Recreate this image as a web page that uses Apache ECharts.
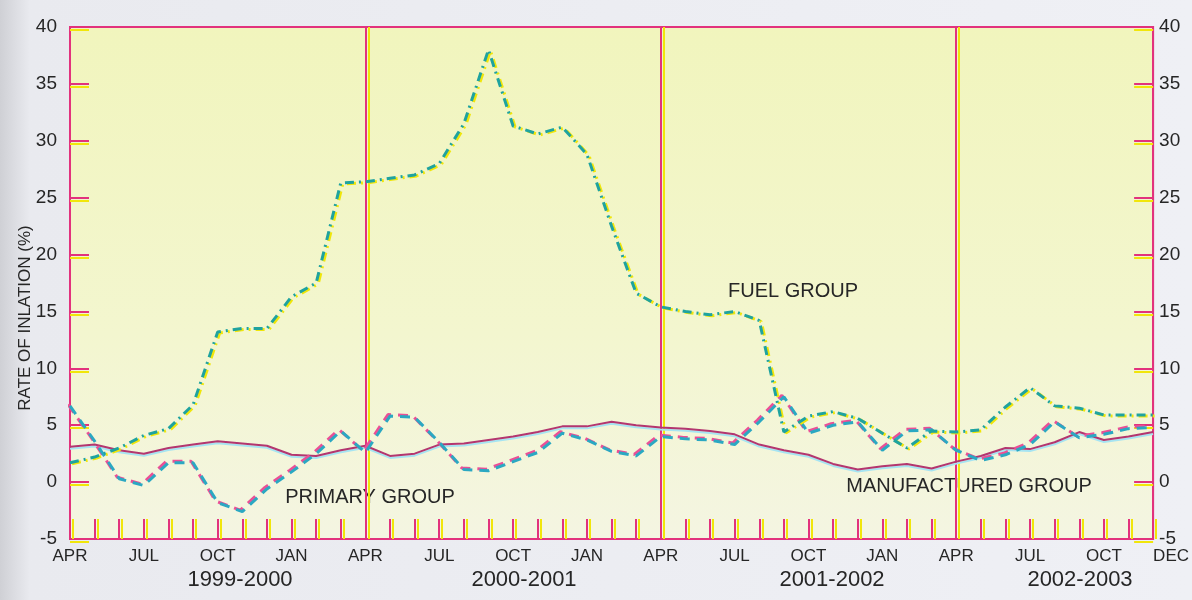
<!DOCTYPE html>
<html>
<head>
<meta charset="utf-8">
<title>Rate of inflation</title>
<script src="https://cdn.jsdelivr.net/npm/echarts@6/dist/echarts.min.js"></script>
<style>
  html, body { margin: 0; padding: 0; }
  #chart { width: 1192px; height: 600px; }
</style>
</head>
<body>
<div id="chart"></div>
<script>
// months Apr 1999 .. Dec 2002
var monthNames = ['APR','MAY','JUN','JUL','AUG','SEP','OCT','NOV','DEC','JAN','FEB','MAR'];
var months = [];
for (var i = 0; i < 45; i++) months.push(monthNames[i % 12]);

var yearLabels = ['1999-2000', '2000-2001', '2001-2002', '2002-2003'];
var yTicks = [-5, 0, 5, 10, 15, 20, 25, 30, 35, 40];

// one value per month
var fuelGroup = [1.7, 2.2, 3.0, 4.1, 4.7, 6.8, 13.2, 13.5, 13.5, 16.3, 17.5, 26.3,
                 26.4, 26.7, 27.0, 28.0, 31.5, 38.0, 31.3, 30.6, 31.2, 28.8, 22.5, 16.6,
                 15.4, 15.0, 14.7, 15.0, 14.2, 4.4, 5.8, 6.2, 5.6, 4.3, 3.0, 4.5,
                 4.4, 4.6, 6.6, 8.3, 6.7, 6.5, 5.9, 5.9, 5.9];
var primaryGroup = [6.7, 3.6, 0.3, -0.3, 1.7, 1.7, -1.8, -2.6, -0.6, 0.9, 2.5, 4.5,
                    2.6, 5.8, 5.7, 3.5, 1.1, 1.0, 1.8, 2.6, 4.3, 3.7, 2.7, 2.3,
                    4.0, 3.8, 3.7, 3.3, 5.3, 7.5, 4.3, 5.0, 5.3, 2.8, 4.5, 4.6,
                    2.8, 1.9, 2.4, 3.3, 5.3, 3.9, 4.2, 4.7, 4.8];
var manufacturedGroup = [3.1, 3.3, 2.8, 2.5, 3.0, 3.3, 3.6, 3.4, 3.2, 2.4, 2.3, 2.8,
                         3.2, 2.3, 2.5, 3.3, 3.4, 3.7, 4.0, 4.4, 4.9, 4.9, 5.3, 5.0,
                         4.8, 4.7, 4.5, 4.2, 3.3, 2.8, 2.4, 1.6, 1.1, 1.4, 1.6, 1.2,
                         1.8, 2.3, 3.0, 2.9, 3.5, 4.4, 3.7, 4.0, 4.4];

var magenta = '#e2327d'
var yellow = '#f1e60a'
var font = 'Liberation Sans, Arial'

var myChart = echarts.init(document.getElementById('chart'))

var yAxisBase = function(pos) {
  return {
    type: 'value',
    position: pos,
    min: yTicks[0],
    max: yTicks[yTicks.length - 1],
    interval: 5,
    axisLine: { show: true, lineStyle: { color: magenta, width: 2 } },
    axisTick: {
      show: true, inside: true, length: 19,
      lineStyle: { color: magenta, width: 2, shadowColor: yellow, shadowOffsetY: 3 }
    },
    axisLabel: {
      fontSize: 19, color: '#262626', fontFamily: font,
      margin: pos === 'left' ? 13 : 6
    },
    splitLine: { show: false }
  }
}

var textStyle = function(txt, size) {
  return { text: txt, fontSize: size, fill: '#262626', fontFamily: font, align: 'center', verticalAlign: 'middle' }
}

var option = {
  backgroundColor: new echarts.graphic.LinearGradient(0, 0, 1, 0, [
    { offset: 0, color: '#cfd0d5' },
    { offset: 0.025, color: '#e9eaef' },
    { offset: 1, color: '#eff0f5' }
  ]),
  animation: false,
  grid: {
    left: 70, right: 38, top: 27, bottom: 61,
    show: true,
    backgroundColor: new echarts.graphic.LinearGradient(0, 0, 0, 1, [
      { offset: 0, color: '#f1f5bd' },
      { offset: 0.6, color: '#f3f6cf' },
      { offset: 1, color: '#f4f5e2' }
    ]),
    borderColor: magenta,
    borderWidth: 2
  },
  xAxis: {
    type: 'category',
    boundaryGap: false,
    data: months,
    axisLine: { onZero: false, lineStyle: { color: magenta, width: 2 } },
    axisTick: {
      show: true, inside: true, length: 20, interval: 0,
      lineStyle: { color: magenta, width: 2, shadowColor: yellow, shadowOffsetX: 3 }
    },
    axisLabel: {
      interval: function(idx) { return idx % 3 === 0 || idx === months.length - 1 },
      fontSize: 17, color: '#262626', fontFamily: font,
      margin: 9,
      alignMaxLabel: 'left'
    },
    splitLine: {
      show: true,
      interval: function(idx) { return idx > 0 && idx < months.length - 1 && idx % 12 === 0 },
      lineStyle: { color: magenta, width: 2, shadowColor: yellow, shadowOffsetX: 3 }
    }
  },
  yAxis: [yAxisBase('left'), yAxisBase('right')],
  graphic: [
    { type: 'text', x: 25, y: 318, rotation: Math.PI / 2, style: textStyle('RATE OF INLATION (%)', 17) },
    { type: 'text', x: 240, y: 580, style: textStyle(yearLabels[0], 22) },
    { type: 'text', x: 524, y: 580, style: textStyle(yearLabels[1], 22) },
    { type: 'text', x: 832, y: 580, style: textStyle(yearLabels[2], 22) },
    { type: 'text', x: 1080, y: 580, style: textStyle(yearLabels[3], 22) },
    { type: 'text', x: 370, y: 497, style: textStyle('PRIMARY GROUP', 20) },
    { type: 'text', x: 793, y: 291, style: textStyle('FUEL GROUP', 20) },
    { type: 'text', x: 969, y: 486, style: textStyle('MANUFACTURED GROUP', 20) }
  ],
  series: [
    {
      name: 'MANUFACTURED GROUP',
      type: 'line',
      data: manufacturedGroup,
      symbol: 'none',
      lineStyle: { color: '#b3366f', width: 2, shadowColor: '#a6e4f2', shadowOffsetY: 2 }
    },
    {
      name: 'PRIMARY GROUP',
      type: 'line',
      data: primaryGroup,
      symbol: 'none',
      lineStyle: { color: '#2ba8c2', width: 3, type: [10, 7], shadowColor: '#ea5096', shadowOffsetX: -2, shadowOffsetY: -1.5 }
    },
    {
      name: 'FUEL GROUP',
      type: 'line',
      data: fuelGroup,
      symbol: 'none',
      lineStyle: { color: '#1fa39f', width: 3, type: [9, 5, 2, 5], shadowColor: '#f0e60a', shadowOffsetX: 2, shadowOffsetY: 1 }
    }
  ]
}

myChart.setOption(option)
window.addEventListener('resize', function() { myChart.resize() })
</script>
</body>
</html>
